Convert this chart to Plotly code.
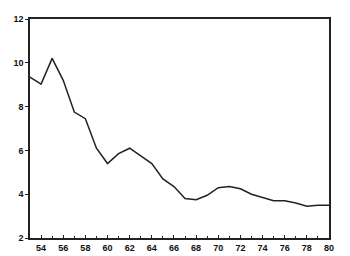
import plotly.graph_objects as go

years = list(range(53, 81))
values = [9.35, 9.03, 10.2, 9.2, 7.75, 7.45, 6.1, 5.4, 5.85, 6.1, 5.75, 5.4,
          4.7, 4.35, 3.8, 3.75, 3.95, 4.3, 4.35, 4.25, 4.0, 3.85, 3.7, 3.7,
          3.6, 3.45, 3.5, 3.5]
x_tick_vals = list(range(54, 81, 2))
x_tick_text = [str(v) for v in x_tick_vals]
y_tick_vals = [2, 4, 6, 8, 10, 12]

fig = go.Figure(go.Scatter(x=years, y=values, mode="lines",
                           line=dict(color="#222222", width=1.5)))

tf = dict(size=9, family="Liberation Sans", weight="bold", color="#111111")
fig.update_layout(
    width=350, height=256,
    margin=dict(l=30, r=21, t=19, b=18),
    paper_bgcolor="white", plot_bgcolor="white",
    showlegend=False,
    font=dict(family="Liberation Sans", size=9, color="#111111"),
)
fig.update_xaxes(range=[53, 80], tickvals=x_tick_vals, ticktext=x_tick_text,
                 automargin=False,
                 showgrid=False, zeroline=False, showline=True, linecolor="#222222",
                 linewidth=1.5, mirror=True, ticks="inside", ticklen=3,
                 tickcolor="#222222",
                 minor=dict(dtick=1, ticks="inside", ticklen=2, tickcolor="#222222"),
                 tickfont=tf)
fig.update_yaxes(range=[2, 12], tickvals=y_tick_vals,
                 automargin=False,
                 showgrid=False, zeroline=False, showline=True, linecolor="#222222",
                 linewidth=1.5, mirror=True, ticks="outside", ticklen=3,
                 tickcolor="#222222", tickfont=tf)

fig.write_html("out.html", config={"displayModeBar": False},
               post_script="document.body.style.margin='0px';document.body.style.overflow='hidden';")
